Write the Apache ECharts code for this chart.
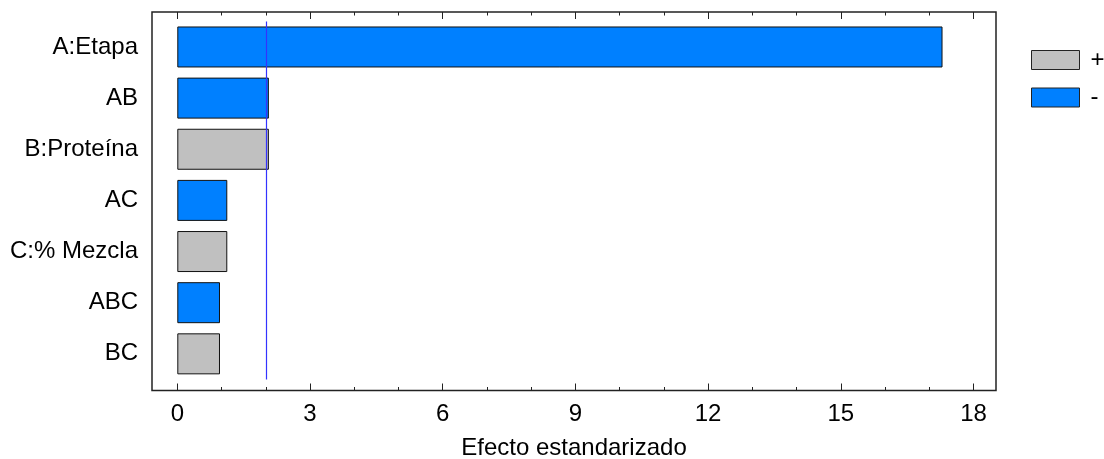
<!DOCTYPE html>
<html>
<head>
<meta charset="utf-8">
<script src="https://cdn.jsdelivr.net/npm/echarts@6/dist/echarts.min.js"></script>
<style>
html,body{margin:0;padding:0;background:#fff;}
#c{width:1104px;height:459px;}
</style>
</head>
<body>
<div id="c"></div>
<script>
// ---- data ----
var categories = ['A:Etapa', 'AB', 'B:Proteína', 'AC', 'C:% Mezcla', 'ABC', 'BC'];
var effects = [17.30, 2.07, 2.07, 1.13, 1.13, 0.965, 0.965];
var signs = ['-', '-', '+', '-', '+', '-', '+'];
var criticalValue = 2.01;
var majorTicks = [0, 3, 6, 9, 12, 15, 18];
var minorTicks = [0, 1, 2, 3, 4, 5, 6, 7, 8, 9, 10, 11, 12, 13, 14, 15, 16, 17, 18];
var axisTitle = 'Efecto estandarizado';

// ---- chart ----
var FONT = '"Liberation Sans", Arial, sans-serif';
var XMIN = -0.572, XMAX = 18.509;
var plusData = effects.map(function (v, i) { return signs[i] === '+' ? v : null; });
var minusData = effects.map(function (v, i) { return signs[i] === '-' ? v : null; });

function frameAxis(pos, values, len, showLabel, extra) {
  var a = {
    type: 'value', gridIndex: 0, position: pos, min: XMIN, max: XMAX,
    axisLine: { show: false }, splitLine: { show: false },
    axisTick: { show: true, inside: true, length: len, customValues: values,
      lineStyle: { color: '#222', width: 1 } },
    axisLabel: { show: showLabel, customValues: values, margin: 12,
      color: '#000', fontSize: 24, fontFamily: FONT }
  };
  if (extra) for (var k in extra) a[k] = extra[k];
  return a;
}

var chart = echarts.init(document.getElementById('c'), null, { renderer: 'canvas' });
chart.setOption({
  animation: false,
  backgroundColor: '#fff',
  textStyle: { fontFamily: FONT },
  grid: [
    { left: 152, width: 844, top: 12, height: 378.5, show: true,
      outerBoundsMode: 'none', containLabel: false,
      borderColor: '#222', borderWidth: 1.5, backgroundColor: 'transparent' },
    { left: 152, width: 844, top: 21.4, height: 358,
      outerBoundsMode: 'none', containLabel: false }
  ],
  legend: {
    orient: 'vertical', left: 1026, top: 43,
    itemWidth: 48, itemHeight: 19, itemGap: 13.5,
    icon: 'rect',
    data: ['+', '-'],
    textStyle: { fontSize: 24, color: '#000', fontFamily: FONT, padding: [0, 0, 0, 6] },
    itemStyle: { borderColor: '#222', borderWidth: 1 }
  },
  xAxis: [
    frameAxis('bottom', majorTicks, 7, true, {
      name: axisTitle, nameLocation: 'middle', nameGap: 46,
      nameTextStyle: { fontSize: 24, color: '#000', fontFamily: FONT }
    }),
    frameAxis('bottom', minorTicks, 3.5, false),
    frameAxis('top', majorTicks, 7, false),
    frameAxis('top', minorTicks, 3.5, false),
    { type: 'value', gridIndex: 1, min: XMIN, max: XMAX, show: false }
  ],
  yAxis: [
    { type: 'value', gridIndex: 0, min: 0, max: 1, show: false },
    { type: 'category', gridIndex: 1, data: categories, inverse: true,
      axisLine: { show: false }, axisTick: { show: false },
      axisLabel: { margin: 14, color: '#000', fontSize: 24, fontFamily: FONT } }
  ],
  series: [
    { name: '+', type: 'bar', xAxisIndex: 4, yAxisIndex: 1, stack: 'e',
      barWidth: 41, data: plusData,
      itemStyle: { color: '#C0C0C0', borderColor: '#111', borderWidth: 1 } },
    { name: '-', type: 'bar', xAxisIndex: 4, yAxisIndex: 1, stack: 'e',
      barWidth: 41, data: minusData,
      itemStyle: { color: '#0080FF', borderColor: '#111', borderWidth: 1 },
      markLine: {
        silent: true, symbol: 'none', label: { show: false },
        lineStyle: { color: '#3333FF', width: 1.2, type: 'solid' },
        data: [{ xAxis: criticalValue }]
      } }
  ]
});
</script>
</body>
</html>
